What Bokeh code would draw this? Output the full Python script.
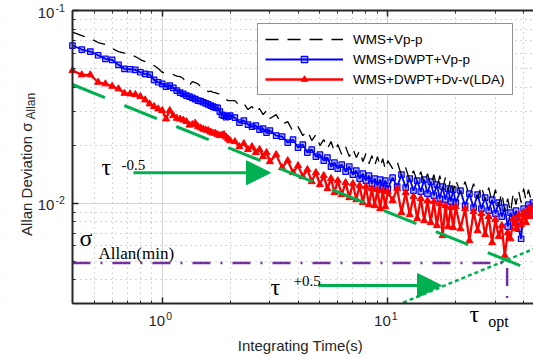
import math
from bokeh.plotting import figure
from bokeh.models import (FixedTicker, LogAxis, Legend, LegendItem, Label, Arrow, NormalHead,
                          BoxAnnotation, Range1d, CustomJSTickFormatter)
from bokeh.embed import file_html
from bokeh.resources import INLINE

# ---------------- data ----------------
tau = [0.40, 0.44, 0.48, 0.52, 0.56, 0.60, 0.64, 0.68, 0.72, 0.76, 0.80, 0.84, 0.88, 0.92, 0.96,
       1.00, 1.04, 1.08, 1.12, 1.16, 1.20, 1.24, 1.28, 1.32, 1.36, 1.40, 1.44, 1.48, 1.52, 1.56,
       1.60, 1.64, 1.68, 1.72, 1.76, 1.80, 1.84, 1.88, 1.92, 1.96, 2.00,
       2.1, 2.2, 2.3, 2.4, 2.5, 2.6, 2.7, 2.8, 2.9, 3.0,
       3.2, 3.4, 3.6, 3.8, 4.0, 4.2, 4.4, 4.6, 4.8, 5.0, 5.2, 5.4, 5.6, 5.8, 6.0,
       6.25, 6.5, 6.75, 7.0, 7.25, 7.5, 7.75, 8.0, 8.25, 8.5, 8.75, 9.0, 9.25, 9.5, 9.75, 10.0,
       10.5, 11, 11.5, 12, 12.5, 13, 13.5, 14, 14.5, 15, 15.5, 16, 16.5, 17, 17.5, 18, 18.5, 19, 19.5, 20,
       21, 22, 23, 24, 25, 26, 27, 28, 29, 30, 31, 32, 33, 34, 35, 36, 37, 38, 39, 40, 41, 42, 43, 44]

wms_vpp = [0.07715, 0.07416, 0.07155, 0.06821, 0.06660, 0.06347, 0.06124, 0.06016, 0.05922, 0.05769,
           0.05566, 0.05435, 0.05274, 0.05180, 0.04998, 0.04782, 0.04735, 0.04680, 0.04652, 0.04570,
           0.04543, 0.04437, 0.04178, 0.04079, 0.04279, 0.04228, 0.04163, 0.04031, 0.03889, 0.03842,
           0.03797, 0.03819, 0.03764, 0.03751, 0.03707, 0.03693, 0.03619, 0.03548, 0.03450, 0.03409, 0.03409,
           0.03409, 0.03211, 0.03296, 0.03061, 0.03173, 0.02953, 0.03099, 0.02883, 0.03025, 0.02749,
           0.02883, 0.02559, 0.02652, 0.02353, 0.02498, 0.02243, 0.02381, 0.02113, 0.02270, 0.01990,
           0.02138, 0.01920, 0.02088, 0.01853, 0.02014,
           0.01787, 0.01966, 0.01745, 0.01920, 0.01724, 0.01875, 0.01643, 0.01809, 0.01604, 0.01766,
           0.01567, 0.01745, 0.01548, 0.01704, 0.01494, 0.01663,
           0.01512, 0.01643, 0.01390, 0.01530, 0.01310, 0.01476, 0.01294, 0.01458, 0.01264, 0.01424,
           0.01234, 0.01407, 0.01205, 0.01390, 0.01190, 0.01357, 0.01162, 0.01342, 0.01148, 0.01326,
           0.01121, 0.01294, 0.01082, 0.01264, 0.01056, 0.01234, 0.01031, 0.01205, 0.01007, 0.01176,
           0.00971, 0.01135, 0.00915, 0.01056, 0.00893, 0.01135, 0.00983, 0.01162, 0.01007, 0.01190,
           0.01031, 0.01176, 0.01056, 0.01162]

wms_dwpt_vpp = [0.06580, 0.06272, 0.06124, 0.05859, 0.05613, 0.05546, 0.05224, 0.04980, 0.04955, 0.04921,
                0.04782, 0.04691, 0.04652, 0.04366, 0.04243, 0.04163, 0.04031, 0.04079, 0.03968, 0.03842,
                0.03751, 0.03693, 0.03619, 0.03576, 0.03521, 0.03470, 0.03409, 0.03389, 0.03341, 0.03296,
                0.03257, 0.03211, 0.03173, 0.03135, 0.03124, 0.02989, 0.02873, 0.02849, 0.02792, 0.02815, 0.02849,
                0.02782, 0.02621, 0.02684, 0.02559, 0.02498, 0.02528, 0.02410, 0.02439, 0.02325, 0.02381,
                0.02243, 0.02216, 0.02063, 0.02138, 0.01943, 0.02014, 0.01831, 0.01898, 0.01745, 0.01787,
                0.01663, 0.01724, 0.01548, 0.01624, 0.01512,
                0.01586, 0.01458, 0.01548, 0.01407, 0.01476, 0.01342, 0.01424, 0.01310, 0.01390, 0.01264,
                0.01342, 0.01234, 0.01326, 0.01205, 0.01310, 0.01190,
                0.01357, 0.01219, 0.01407, 0.01205, 0.01342, 0.01162, 0.01310, 0.01148, 0.01326, 0.01121,
                0.01294, 0.01095, 0.01249, 0.01056, 0.01219, 0.01043, 0.01190, 0.01019, 0.01176, 0.01007,
                0.01162, 0.00971, 0.01121, 0.00948, 0.01108, 0.00937, 0.01069, 0.00915, 0.01043, 0.00883,
                0.01007, 0.00852, 0.00948, 0.00756, 0.00893, 0.00793, 0.00915, 0.00737, 0.00654, 0.00937,
                0.00862, 0.00983, 0.00915, 0.01007]

wms_dwpt_lda = [0.04880, 0.04636, 0.04636, 0.04243, 0.04163, 0.04045, 0.03921, 0.03720, 0.03693, 0.03662,
                0.03576, 0.03438, 0.03277, 0.03173, 0.03087, 0.03025, 0.02739, 0.03025, 0.02849, 0.02759,
                0.02733, 0.02701, 0.02652, 0.02543, 0.02559, 0.02601, 0.02498, 0.02459, 0.02423, 0.02400,
                0.02381, 0.02339, 0.02311, 0.02306, 0.02270, 0.02243, 0.02256, 0.02270, 0.02203, 0.02156, 0.02113,
                0.02088, 0.01966, 0.02038, 0.01898, 0.01966, 0.01831, 0.01898, 0.01745, 0.01831, 0.01643,
                0.01787, 0.01530, 0.01663, 0.01441, 0.01567, 0.01374, 0.01494, 0.01294, 0.01441, 0.01249,
                0.01390, 0.01190, 0.01342, 0.01135, 0.01310,
                0.01108, 0.01279, 0.01069, 0.01264, 0.01043, 0.01234, 0.01007, 0.01219, 0.00983, 0.01190,
                0.00971, 0.01176, 0.00937, 0.01162, 0.00959, 0.01148,
                0.01031, 0.01190, 0.00893, 0.01135, 0.00872, 0.01082, 0.00832, 0.01056, 0.00812, 0.01031,
                0.00793, 0.01019, 0.00765, 0.00995, 0.00679, 0.00971, 0.00756, 0.00948, 0.00747, 0.00959,
                0.00737, 0.00937, 0.00639, 0.00904, 0.00720, 0.00883, 0.00687, 0.00852, 0.00624, 0.00822,
                0.00671, 0.00765, 0.00534, 0.00703, 0.00654, 0.00832, 0.00737, 0.00872, 0.00774, 0.00893,
                0.00793, 0.00937, 0.00852, 0.00959]

series_names = ["WMS+Vp-p", "WMS+DWPT+Vp-p", "WMS+DWPT+Dv-v(LDA)"]

# guide lines
slope_m05_tau = [0.4, 39.5]
slope_m05_sigma = [0.0413, 0.00469]
slope_p05_tau = [11.7, 44.2]
slope_p05_sigma = [0.00305, 0.00578]
sigma_min = 0.0049
tau_opt = 33.8
sigma_min_tau = [0.4, tau_opt]
sigma_min_sigma = [sigma_min, sigma_min]
tau_opt_tau = [tau_opt, tau_opt]
tau_opt_sigma = [sigma_min, 0.003]

# arrows (tail tau, tip tau, sigma)
arrow1 = (0.746, 3.02, 0.01439)
arrow2 = (4.93, 17.3, 0.00374)

# axes: plotted box and ticks
x_lo, x_hi = 0.4, 44.2
y_lo, y_hi = 0.003, 0.1
x_major = [1, 10]
x_minor = [0.4, 0.5, 0.6, 0.7, 0.8, 0.9, 2, 3, 4, 5, 6, 7, 8, 9, 20, 30, 40]
y_major = [0.01, 0.1]
y_minor = [0.003, 0.004, 0.005, 0.006, 0.007, 0.008, 0.009,
           0.02, 0.03, 0.04, 0.05, 0.06, 0.07, 0.08, 0.09]
x_major_exp = ["0", "1"]
y_major_exp = ["-2", "-1"]

# the canvas shows a little beyond the box (room for the labels)
view_x = (0.19193, 44.24)
view_y = (0.0015632, 0.1127)

AX = "#262626"
GREEN = "#00b050"
PURPLE = "#7030a0"
SANS = "Liberation Sans"
SERIF = "Liberation Serif"

p = figure(width=533, height=358, x_axis_type="log", y_axis_type="log",
           x_range=Range1d(*view_x), y_range=Range1d(*view_y),
           output_backend="svg", toolbar_location=None,
           min_border=0, min_border_left=0, min_border_right=0, min_border_top=0, min_border_bottom=0)
p.outline_line_color = None
p.background_fill_color = "white"
p.border_fill_color = "white"

bottom_axis = p.below[0]
left_axis = p.left[0]
bottom_axis.ticker = FixedTicker(ticks=x_major, minor_ticks=x_minor)
left_axis.ticker = FixedTicker(ticks=y_major, minor_ticks=y_minor)
bottom_axis.fixed_location = y_lo
bottom_axis.bounds = (x_lo, x_hi)
left_axis.fixed_location = x_lo
left_axis.bounds = (y_lo, y_hi)

top_axis = LogAxis(ticker=FixedTicker(ticks=x_major, minor_ticks=x_minor),
                   fixed_location=y_hi, bounds=(x_lo, x_hi))

for ax in [bottom_axis, left_axis, top_axis]:
    ax.axis_line_width = 2
    ax.axis_line_color = AX
    ax.major_tick_in = 6
    ax.major_tick_out = 0
    ax.minor_tick_in = 3
    ax.minor_tick_out = 0
    ax.major_tick_line_color = AX
    ax.minor_tick_line_color = AX
    ax.major_tick_line_width = 1.5
    ax.minor_tick_line_width = 1
    ax.formatter = CustomJSTickFormatter(code="return ''")
    ax.major_label_text_font_size = "1px"
    ax.major_label_standoff = 0
    ax.axis_label = None
p.add_layout(top_axis, "above")

for g in [p.xgrid[0], p.ygrid[0]]:
    g.grid_line_color = "#d4d4d4"
    g.grid_line_width = 1
    g.minor_grid_line_color = "#9a9a9a"
    g.minor_grid_line_alpha = 0.8
    g.minor_grid_line_dash = "1 4"

# keep the grid inside the box
for kw in [dict(right=x_lo), dict(top=y_lo), dict(bottom=y_hi)]:
    p.add_layout(BoxAnnotation(level="underlay", fill_color="white", fill_alpha=1,
                               line_alpha=0, **kw))

# data series
r_blue_l = p.line(tau, wms_dwpt_vpp, line_color="#0000ff", line_width=1.8)
r_blue_m = p.scatter(tau, wms_dwpt_vpp, marker="square", size=5.5, line_color="#0000ff",
                     fill_color="#0000ff", fill_alpha=0.3, line_width=1.2)
r_red_l = p.line(tau, wms_dwpt_lda, line_color="#ff0000", line_width=2.3)
r_red_m = p.scatter(tau, wms_dwpt_lda, marker="triangle", size=7, line_color="#ff0000",
                    fill_color="#ff0000")
r_black = p.line(tau, wms_vpp, line_color="black", line_width=1.3, line_dash="13 9")

# guide lines
p.line(slope_m05_tau, slope_m05_sigma, line_color=GREEN, line_width=3, line_dash="35 21")
p.line(slope_p05_tau, slope_p05_sigma, line_color=GREEN, line_width=2.5, line_dash="4 3")
p.line(sigma_min_tau, sigma_min_sigma, line_color=PURPLE, line_width=2.5, line_dash="18 10 2 10")
p.line(tau_opt_tau, tau_opt_sigma, line_color=PURPLE, line_width=2.5, line_dash="18 10 2 10",
       line_dash_offset=35)

for (t0, t1, s) in [arrow1, arrow2]:
    p.add_layout(Arrow(x_start=t0, y_start=s, x_end=t1, y_end=s, line_color=GREEN, line_width=3,
                       end=NormalHead(size=24, fill_color=GREEN, line_color=GREEN, line_width=1)))

def lab(x, y, text, size, font=SERIF, color="black", x_offset=0, y_offset=0, angle=0, **kw):
    # shift so that the given point is the text's baseline
    lift = 0.33 * size
    if angle:
        x_offset -= lift
    else:
        y_offset += lift
    p.add_layout(Label(x=x, y=y, text=text, text_font=font, text_font_size=f"{size}px",
                       text_color=color, text_baseline="alphabetic", angle=angle,
                       x_offset=x_offset, y_offset=y_offset, **kw))

# decade tick labels (10 with a superscript exponent)
for t, e in zip(x_major, x_major_exp):
    lab(t, y_lo, "10", 15, SANS, AX, x_offset=3, y_offset=-22, text_align="right")
    lab(t, y_lo, e, 10.5, SANS, AX, x_offset=4, y_offset=-15.5, text_align="left")
for t, e in zip(y_major, y_major_exp):
    lab(x_lo, t, "10", 15, SANS, AX, x_offset=-18, y_offset=-7, text_align="right")
    lab(x_lo, t, e, 10.5, SANS, AX, x_offset=-17, y_offset=-0.5, text_align="left")

# axis titles
lab(4.10, 0.001720, "Integrating Time(s)", 15, SANS, AX, text_align="center")
lab(0.263, 0.02624, "Allan Deviation \u03c3", 15, SANS, AX, angle=math.pi / 2,
    text_align="right")
lab(0.2730, 0.02718, "Allan", 12, SANS, AX, angle=math.pi / 2, text_align="left")

# annotations
lab(0.538, 0.01409, "\u03c4", 24)
lab(0.660, 0.01496, "-0.5", 15)
lab(3.02, 0.00336, "\u03c4", 24)
lab(3.82, 0.00374, "+0.5", 15)
lab(0.430, 0.00603, "\u03c3", 24)
lab(0.522, 0.00513, "Allan(min)", 17)
lab(23.0, 0.00243, "\u03c4", 24)
lab(27.9, 0.00229, "opt", 16)

legend = Legend(items=[LegendItem(label=series_names[0], renderers=[r_black]),
                       LegendItem(label=series_names[1], renderers=[r_blue_l, r_blue_m]),
                       LegendItem(label=series_names[2], renderers=[r_red_l, r_red_m])],
                location=(257, 263), margin=0, padding=7, spacing=4,
                glyph_width=78, glyph_height=16, label_height=16, label_standoff=10,
                label_text_font=SANS, label_text_font_size="13.5px", label_text_color="black",
                border_line_color=AX, border_line_width=1.5,
                background_fill_color="white", background_fill_alpha=1)
p.add_layout(legend)

open("out.html", "w").write(file_html(p, INLINE))
